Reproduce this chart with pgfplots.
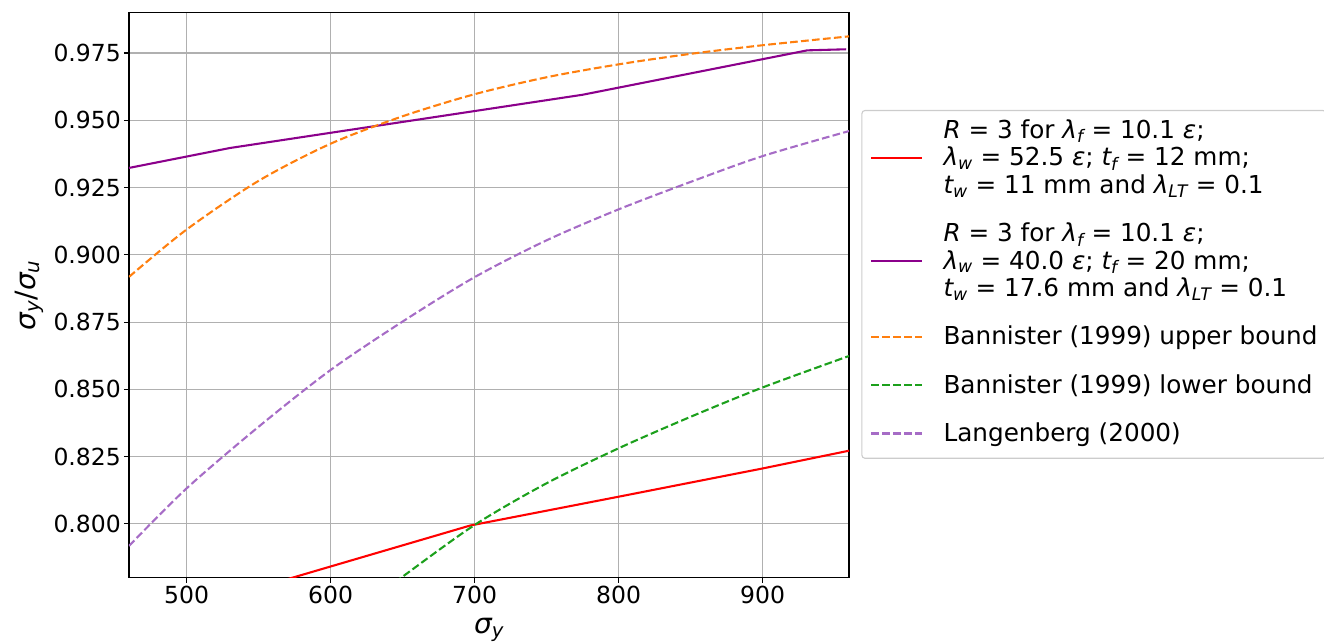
\documentclass[border=0pt]{standalone}
\usepackage{pgfplots}
\pgfplotsset{compat=1.18}
\usepackage{fontspec}
\setmainfont{DejaVu Sans}

\definecolor{cred}{HTML}{FF0000}
\definecolor{cpurple}{HTML}{8B008B}
\definecolor{corange}{HTML}{FF7F0E}
\definecolor{cgreen}{HTML}{1CA01C}
\definecolor{clav}{HTML}{A66CC6}
\definecolor{cgrid}{HTML}{B0B0B0}
\definecolor{cleg}{HTML}{CCCCCC}

\newcommand{\mi}[1]{{\itshape #1}}
\newcommand{\sub}[1]{\textsubscript{\itshape #1}}

\begin{document}
\begin{tikzpicture}
\begin{axis}[
  scale only axis, width=720pt, height=565pt,
  xmin=460, xmax=960, ymin=0.78, ymax=0.99,
  xtick={500,600,700,800,900},
  ytick={0.800,0.825,0.850,0.875,0.900,0.925,0.950,0.975},
  yticklabel style={/pgf/number format/.cd, fixed, fixed zerofill, precision=3},
  /pgf/number format/assume math mode=true,
  tick label style={font=\fontsize{23.5}{28}\selectfont, text=black, inner sep=3pt},
  grid=major,
  major grid style={color=cgrid, line width=1.1pt},
  axis line style={line width=1.1pt, black},
  tick style={line width=1.1pt, black},
  tick align=outside, major tick length=5pt,
  tick pos=left,
  xlabel={\mi{σ}\sub{y}},
  ylabel={\mi{σ}\sub{y}/\mi{σ}\sub{u}},
  label style={font=\fontsize{28}{32}\selectfont},
  xlabel style={at={(axis description cs:0.5,-0.0985)}, anchor=base},
  ylabel style={at={(axis description cs:-0.1389,0.5)}, anchor=center},
  legend style={at={(1.0172,0.8278)}, anchor=north west,
    font=\fontsize{24.7}{27.5}\selectfont,
    draw=cleg, line width=1.1pt, rounded corners=3pt, fill=white,
    inner sep=8.5pt, row sep=0pt, column sep=20pt,
    nodes={inner sep=0pt, text height=19.25pt, text depth=8.25pt},
    cells={anchor=base west}},
  legend image code/.code={\draw[#1, line width=2.08pt] (0pt,8pt) -- (51pt,8pt);},
  every axis plot/.append style={line width=2.08pt},
]
\addlegendimage{empty legend}
\addlegendentry{\mi{R} = 3 for \mi{λ}\sub{f} = 10.1 \mi{ε};}
\addplot[cred, solid] coordinates {
(460,0.7624) (573.5,0.7800) (697,0.7994) (800,0.8101) (900,0.8206) (960,0.8272)};
\addlegendentry{\mi{λ}\sub{w} = 52.5 \mi{ε}; \mi{t}\sub{f} = 12 mm;}
\addlegendimage{empty legend}
\addlegendentry[text depth=29.05pt]{\mi{t}\sub{w} = 11 mm and \mi{λ}\sub{LT} = 0.1}

\addlegendimage{empty legend}
\addlegendentry{\mi{R} = 3 for \mi{λ}\sub{f} = 10.1 \mi{ε};}
\addplot[cpurple, solid] coordinates {
(460,0.9323) (530,0.9397) (775,0.9595) (931,0.9760) (958,0.9764)};
\addlegendentry{\mi{λ}\sub{w} = 40.0 \mi{ε}; \mi{t}\sub{f} = 20 mm;}
\addlegendimage{empty legend}
\addlegendentry[text depth=29.05pt]{\mi{t}\sub{w} = 17.6 mm and \mi{λ}\sub{LT} = 0.1}

\addplot[corange, dash pattern=on 7.7pt off 3.3pt, smooth] coordinates {
(460,0.8918) (500,0.9094) (550,0.9275) (600,0.9413) (650,0.9515) (700,0.9597)
(750,0.9660) (800,0.9708) (850,0.9747) (900,0.9779) (960,0.9812)};
\addlegendentry[text depth=29.05pt]{Bannister (1999) upper bound}

\addplot[cgreen, dash pattern=on 7.7pt off 3.3pt, smooth] coordinates {
(620,0.7685) (649,0.7800) (700,0.7996) (750,0.8151) (800,0.8281) (850,0.8398)
(900,0.8507) (960,0.8624)};
\addlegendentry[text depth=29.05pt]{Bannister (1999) lower bound}

\addplot[clav, dash pattern=on 7.7pt off 3.3pt, smooth] coordinates {
(460,0.7918) (500,0.8132) (550,0.8361) (600,0.8572) (650,0.8752) (700,0.8917)
(750,0.9054) (800,0.9169) (850,0.9271) (900,0.9367) (960,0.9460)};
\addlegendentry{Langenberg (2000)}
\end{axis}
\pgfresetboundingbox
\path[use as bounding box] (current axis.south west) ++(-129pt,-66.3pt) rectangle ++(1324pt,644pt);
\end{tikzpicture}
\end{document}
